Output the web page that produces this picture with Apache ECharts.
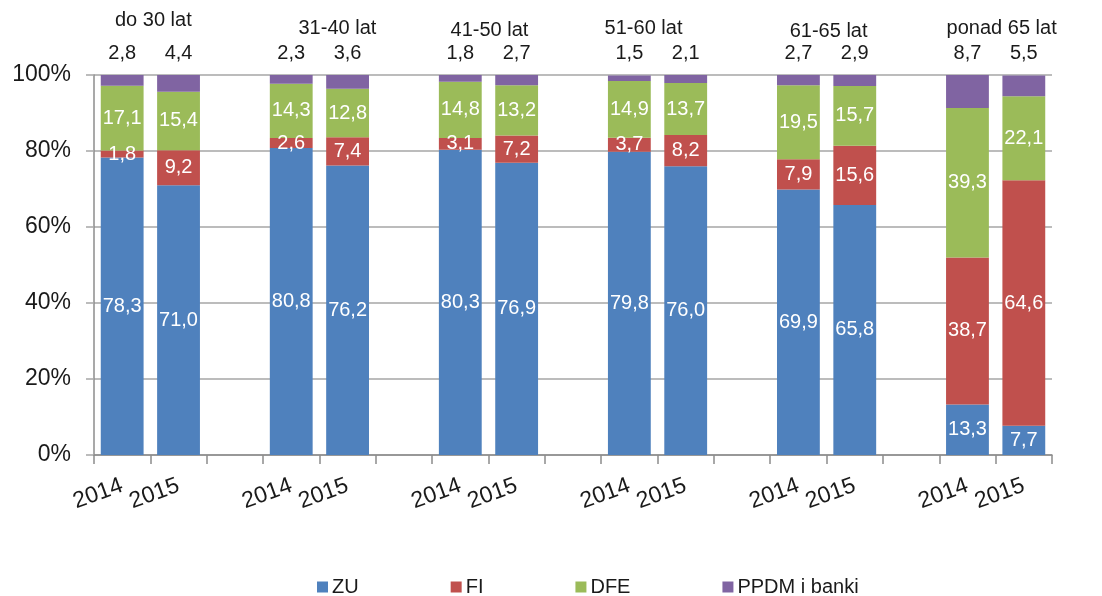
<!DOCTYPE html>
<html>
<head>
<meta charset="utf-8">
<script src="https://cdn.jsdelivr.net/npm/echarts@6/dist/echarts.min.js"></script>
<style>
  html, body { margin: 0; padding: 0; background: #ffffff; }
  #chart { width: 1102px; height: 596px; }
</style>
</head>
<body>
<div id="chart"></div>
<script>
// Age groups and the two years shown for each of them
const groups = ['do 30 lat', '31-40 lat', '41-50 lat', '51-60 lat', '61-65 lat', 'ponad 65 lat'];
const years = ['2014', '2015'];

// Shares (%) per group, in pairs: 2014, 2015
const zu   = [78.3, 71.0, 80.8, 76.2, 80.3, 76.9, 79.8, 76.0, 69.9, 65.8, 13.3, 7.7];
const fi   = [1.8, 9.2, 2.6, 7.4, 3.1, 7.2, 3.7, 8.2, 7.9, 15.6, 38.7, 64.6];
const dfe  = [17.1, 15.4, 14.3, 12.8, 14.8, 13.2, 14.9, 13.7, 19.5, 15.7, 39.3, 22.1];
const ppdm = [2.8, 4.4, 2.3, 3.6, 1.8, 2.7, 1.5, 2.1, 2.7, 2.9, 8.7, 5.5];

const seriesNames = ['ZU', 'FI', 'DFE', 'PPDM i banki'];
const yTicks = [0, 20, 40, 60, 80, 100];

const FONT = "'Liberation Sans', Arial, sans-serif";
const colors = ['#4f81bd', '#c0504d', '#9bbb59', '#8064a2'];

// Category slots: two years per group with an empty slot between groups
const categories = [];
const slotOfPair = [];
groups.forEach((g, gi) => {
  years.forEach((y) => { slotOfPair.push(categories.length); categories.push(y); });
  if (gi < groups.length - 1) categories.push('');
});

function toSlots(values) {
  const out = categories.map(() => '-');
  values.forEach((v, i) => { out[slotOfPair[i]] = v; });
  return out;
}

const fmt = (p) => (typeof p.value === 'number' ? p.value.toFixed(1).replace('.', ',') : '');

const chart = echarts.init(document.getElementById('chart'), null, { renderer: 'canvas' });

const series = [zu, fi, dfe, ppdm].map((vals, si) => ({
  name: seriesNames[si],
  type: 'bar',
  stack: 'total',
  barWidth: '76%',
  data: toSlots(vals),
  itemStyle: { color: colors[si] },
  label: si < 3 ? {
    show: true,
    position: 'inside',
    color: '#ffffff',
    fontFamily: FONT,
    fontSize: 20,
    formatter: fmt
  } : {
    show: true,
    position: 'top',
    distance: 12,
    color: '#1a1a1a',
    fontFamily: FONT,
    fontSize: 20,
    formatter: fmt
  },
  emphasis: { disabled: true }
}));

chart.setOption({
  animation: false,
  color: colors,
  grid: { left: 94, right: 50, top: 75, bottom: 141, containLabel: false },
  legend: {
    data: seriesNames,
    top: 572,
    left: 312,
    icon: 'rect',
    itemWidth: 11,
    itemHeight: 11,
    itemGap: 92,
    textStyle: { fontFamily: FONT, fontSize: 20, color: '#1a1a1a', padding: [0, 0, 0, -1] }
  },
  xAxis: {
    type: 'category',
    data: categories,
    boundaryGap: true,
    axisLine: { lineStyle: { color: '#8c8c8c', width: 1.5 } },
    axisTick: { show: true, alignWithLabel: false, interval: 0, length: 9, lineStyle: { color: '#8c8c8c', width: 1.5 } },
    axisLabel: {
      interval: 0,
      rotate: 20,
      margin: 30,
      fontFamily: FONT,
      fontSize: 23,
      color: '#1a1a1a'
    }
  },
  yAxis: {
    type: 'value',
    min: yTicks[0],
    max: yTicks[yTicks.length - 1],
    interval: yTicks[1] - yTicks[0],
    axisLine: { show: true, lineStyle: { color: '#8c8c8c', width: 1.5 } },
    axisTick: { show: true, length: 8, lineStyle: { color: '#a6a6a6', width: 1.5 } },
    splitLine: { show: true, lineStyle: { color: '#a6a6a6', width: 1.5 } },
    axisLabel: {
      margin: 23,
      fontFamily: FONT,
      fontSize: 23,
      color: '#1a1a1a',
      formatter: '{value}%'
    }
  },
  series: series
});

// Age-group captions above each pair of bars
const titleNudge = [[3, -8], [18, 0], [1, 2], [-14, 0], [2, 3], [6, 0]];
const topY = chart.convertToPixel({ yAxisIndex: 0 }, yTicks[yTicks.length - 1]);
chart.setOption({
  graphic: groups.map((g, gi) => {
    const x0 = chart.convertToPixel({ xAxisIndex: 0 }, slotOfPair[gi * 2]);
    const x1 = chart.convertToPixel({ xAxisIndex: 0 }, slotOfPair[gi * 2 + 1]);
    return {
      type: 'text',
      x: (x0 + x1) / 2 + titleNudge[gi][0],
      y: topY - 47 + titleNudge[gi][1],
      style: {
        text: g,
        fill: '#1a1a1a',
        font: '20px ' + FONT,
        align: 'center',
        verticalAlign: 'middle'
      }
    };
  })
});
</script>
</body>
</html>
